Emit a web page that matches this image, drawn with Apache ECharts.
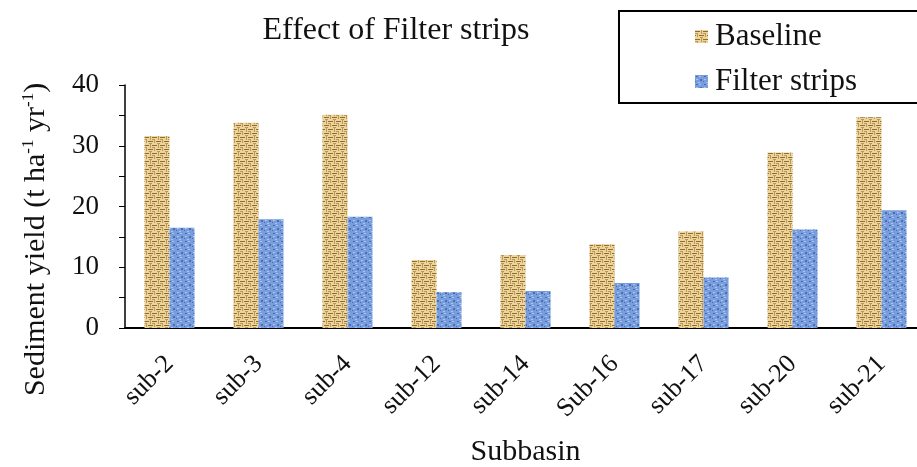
<!DOCTYPE html>
<html>
<head>
<meta charset="utf-8">
<script src="https://cdn.jsdelivr.net/npm/echarts@6/dist/echarts.min.js"></script>
<style>
  html, body { margin: 0; padding: 0; background: #fff; }
  #chart { width: 917px; height: 467px; }
</style>
</head>
<body>
<div id="chart"></div>
<script>
// Sediment yield per subbasin (t ha-1 yr-1)
const categories = ['sub-2', 'sub-3', 'sub-4', 'sub-12', 'sub-14', 'Sub-16', 'sub-17', 'sub-20', 'sub-21'];
const baseline = [31.6, 33.8, 35.1, 11.2, 12.0, 13.8, 15.9, 28.9, 34.7];
const filterStrips = [16.5, 17.9, 18.3, 5.9, 6.1, 7.4, 8.3, 16.2, 19.4];
const yTicks = [0, 10, 20, 30, 40];

const serif = '"Liberation Serif", "DejaVu Serif", serif';

// Woven burlap texture for the baseline bars
function burlapPattern() {
  const c = document.createElement('canvas');
  c.width = 8; c.height = 8;
  const g = c.getContext('2d');
  g.fillStyle = '#ecd49a';
  g.fillRect(0, 0, 8, 8);
  g.fillStyle = '#8f6d32';
  g.fillRect(0, 1, 5, 1);
  g.fillRect(4, 5, 4, 1);
  g.fillRect(0, 5, 1, 1);
  g.fillStyle = '#bb9858';
  g.fillRect(6, 0, 1, 4);
  g.fillRect(2, 3, 1, 4);
  g.fillRect(0, 3, 2, 1);
  g.fillRect(5, 7, 3, 1);
  return c;
}

// Mottled blue texture for the filter-strip bars
function mottledPattern() {
  const c = document.createElement('canvas');
  c.width = 8; c.height = 8;
  const g = c.getContext('2d');
  g.fillStyle = '#789ddd';
  g.fillRect(0, 0, 8, 8);
  g.fillStyle = '#4a6db5';
  g.fillRect(1, 1, 2, 1);
  g.fillRect(5, 4, 2, 2);
  g.fillRect(0, 6, 1, 1);
  g.fillStyle = '#abc4ee';
  g.fillRect(4, 1, 2, 1);
  g.fillRect(1, 4, 2, 1);
  g.fillRect(3, 7, 2, 1);
  return c;
}

const chart = echarts.init(document.getElementById('chart'));

chart.setOption({
  animation: false,
  backgroundColor: '#fff',
  title: {
    text: 'Effect of Filter strips',
    left: 391, top: 10, textAlign: 'center',
    textStyle: { fontFamily: serif, fontSize: 32, fontWeight: 'normal', color: '#111' }
  },
  legend: {
    orient: 'vertical',
    left: 690, top: 16,
    itemWidth: 13, itemHeight: 13,
    itemGap: 14,
    icon: 'rect',
    textStyle: { fontFamily: serif, fontSize: 31, color: '#111', padding: [4, 0, 0, 2] },
    data: ['Baseline', 'Filter strips']
  },
  graphic: [{
    type: 'rect',
    shape: { x: 619, y: 11, width: 320, height: 92 },
    style: { fill: 'none', stroke: '#000', lineWidth: 2 },
    z: 10
  }],
  grid: {
    left: 125, right: -9, top: 85, bottom: 139,
    containLabel: false,
    outerBoundsMode: 'none'
  },
  xAxis: {
    type: 'category',
    data: categories,
    axisLine: { lineStyle: { color: '#000', width: 2 } },
    axisTick: { show: false },
    axisLabel: {
      rotate: 45, margin: 32, color: '#111',
      fontFamily: serif, fontSize: 26, interval: 0
    },
    name: 'Subbasin',
    nameLocation: 'middle',
    nameGap: 109,
    nameTextStyle: { fontFamily: serif, fontSize: 30, color: '#111' }
  },
  yAxis: {
    type: 'value',
    min: yTicks[0], max: yTicks[yTicks.length - 1], interval: 10,
    axisLine: { show: true, lineStyle: { color: '#000', width: 1.5 } },
    axisTick: { show: true, length: 6, lineStyle: { color: '#000' } },
    minorTick: { show: true, splitNumber: 2, length: 6, lineStyle: { color: '#000' } },
    splitLine: { show: false },
    axisLabel: { color: '#111', fontFamily: serif, fontSize: 27, margin: 26 },
    name: '{t|Sediment yield (t ha}{s|-1}{t| yr}{s|-1}{t|)}',
    nameLocation: 'middle',
    nameGap: 72,
    nameRotate: 90,
    nameTextStyle: {
      padding: [0, 66, 0, 0],
      rich: {
        t: { fontFamily: serif, fontSize: 30, color: '#111' },
        s: { fontFamily: serif, fontSize: 17, color: '#111', verticalAlign: 'bottom', padding: [0, 0, 16, 0] }
      }
    }
  },
  series: [
    {
      name: 'Baseline', type: 'bar', data: baseline,
      barWidth: 25, barGap: '0%',
      itemStyle: { color: { image: burlapPattern(), repeat: 'repeat' } }
    },
    {
      name: 'Filter strips', type: 'bar', data: filterStrips,
      barWidth: 25,
      itemStyle: { color: { image: mottledPattern(), repeat: 'repeat' } }
    }
  ]
});
</script>
</body>
</html>
